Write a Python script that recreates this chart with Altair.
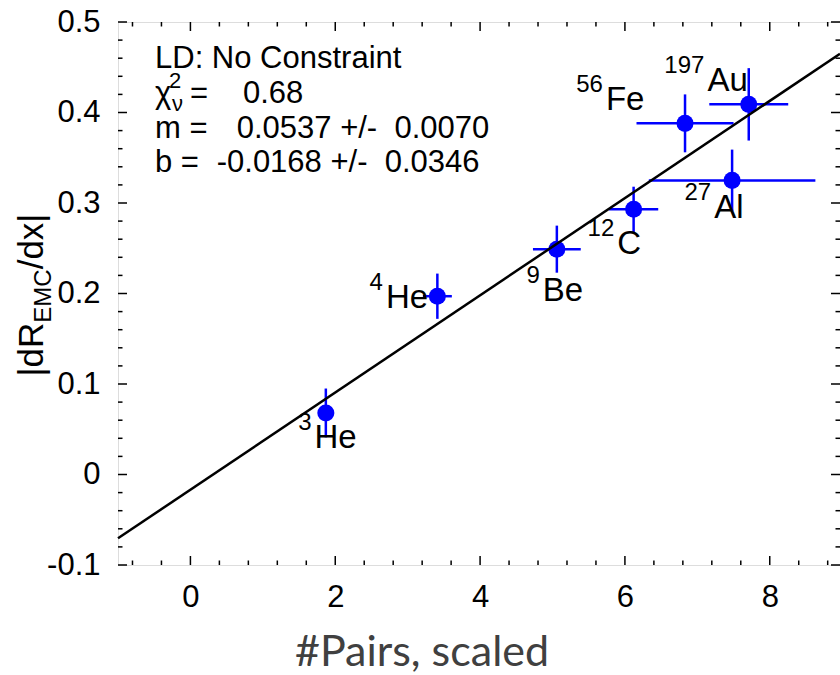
import altair as alt
import pandas as pd

# ---------------- data ----------------
mass_numbers = ["3", "4", "9", "12", "27", "56", "197"]
elements = ["He", "He", "Be", "C", "Al", "Fe", "Au"]
pairs_scaled = [1.87, 3.41, 5.06, 6.12, 7.48, 6.83, 7.71]
pairs_err = [0.08, 0.20, 0.33, 0.34, 1.15, 0.67, 0.545]
emc_slope = [0.068, 0.197, 0.249, 0.293, 0.325, 0.388, 0.409]
emc_err = [0.027, 0.025, 0.026, 0.025, 0.034, 0.032, 0.040]
# label anchors (data coordinates, like gnuplot "set label at")
label_x = [1.714, 2.70, 4.866, 5.894, 7.232, 5.738, 7.139]
label_y = [0.0293, 0.184, 0.1916, 0.2432, 0.2836, 0.4033, 0.4235]

fit_m, fit_m_err = 0.0537, 0.0070
fit_b, fit_b_err = -0.0168, 0.0346
chi2_nu = 0.68

x_major = [0, 2, 4, 6, 8]
x_minor = [-0.8, -0.4, 0.4, 0.8, 1.2, 1.6, 2.4, 2.8, 3.2, 3.6, 4.4, 4.8, 5.2,
           5.6, 6.4, 6.8, 7.2, 7.6, 8.4, 8.8]
y_major = [-0.1, 0.0, 0.1, 0.2, 0.3, 0.4, 0.5]
y_minor = [-0.08, -0.06, -0.04, -0.02, 0.02, 0.04, 0.06, 0.08, 0.12, 0.14, 0.16,
           0.18, 0.22, 0.24, 0.26, 0.28, 0.32, 0.34, 0.36, 0.38, 0.42, 0.44,
           0.46, 0.48]

X_DOMAIN = [-1, 8.97]
Y_DOMAIN = [-0.1, 0.5]
W, H = 722, 543
FONT = "Liberation Sans"
BLUE = "#0000ff"

df = pd.DataFrame({
    "x": pairs_scaled, "xerr": pairs_err, "y": emc_slope, "yerr": emc_err,
    "A": mass_numbers, "el": elements, "lx": label_x, "ly": label_y,
})
df["x_lo"] = df.x - df.xerr
df["x_hi"] = df.x + df.xerr
df["y_lo"] = df.y - df.yerr
df["y_hi"] = df.y + df.yerr

line_df = pd.DataFrame({"x": [X_DOMAIN[0], X_DOMAIN[1]]})
line_df["y"] = fit_m * line_df.x + fit_b

xs = alt.Scale(domain=X_DOMAIN, nice=False, zero=False)
ys = alt.Scale(domain=Y_DOMAIN, nice=False, zero=False)
x_ax = alt.Axis(values=x_major, ticks=False, tickSize=0, domain=False, grid=False,
                title=None, labelFontSize=31, labelFont=FONT, labelColor="#000",
                labelPadding=17)
y_ax = alt.Axis(values=y_major, ticks=False, tickSize=0, domain=False, grid=False,
                title=None, labelFontSize=31, labelFont=FONT, labelColor="#000",
                labelPadding=18,
                labelExpr="datum.value == 0 ? '0' : (datum.value < 0 ? '-' + format(-datum.value, '.1f') : format(datum.value, '.1f'))")


def X(f):
    return alt.X(f, type="quantitative", scale=xs, axis=x_ax)


def Y(f):
    return alt.Y(f, type="quantitative", scale=ys, axis=y_ax)


layers = []

# inward ticks on all four sides
def xticks(vals, length):
    d = pd.DataFrame({"v": vals})
    bot = alt.Chart(d).mark_rule(color="#000", strokeWidth=1.5).encode(
        x=X("v"), y=alt.value(H), y2=alt.value(H - length))
    top = alt.Chart(d).mark_rule(color="#000", strokeWidth=1.5).encode(
        x=X("v"), y=alt.value(0), y2=alt.value(length))
    return [bot, top]


def yticks(vals, length):
    d = pd.DataFrame({"v": vals})
    left = alt.Chart(d).mark_rule(color="#000", strokeWidth=1.5).encode(
        y=Y("v"), x=alt.value(0), x2=alt.value(length))
    right = alt.Chart(d).mark_rule(color="#000", strokeWidth=1.5).encode(
        y=Y("v"), x=alt.value(W - length), x2=alt.value(W))
    return [left, right]


layers += xticks(x_major, 9) + xticks(x_minor, 4.5)
layers += yticks(y_major, 9) + yticks(y_minor, 4.5)

base = alt.Chart(df)
xbars = base.mark_rule(color=BLUE, strokeWidth=2.5).encode(
    x=X("x_lo"), x2="x_hi:Q", y=Y("y"))
ybars = base.mark_rule(color=BLUE, strokeWidth=2.5).encode(
    x=X("x"), y=Y("y_lo"), y2="y_hi:Q")

el_text = base.mark_text(font=FONT, fontSize=33, align="left",
                         baseline="alphabetic", color="#000").encode(
    x=X("lx"), y=Y("ly"), text="el:N")
a_text = base.mark_text(font=FONT, fontSize=24, align="right",
                        baseline="alphabetic", color="#000", dx=-3, dy=-18).encode(
    x=X("lx"), y=Y("ly"), text="A:N")

points = base.mark_circle(color=BLUE, size=290, opacity=1).encode(
    x=X("x"), y=Y("y"))

fit_line = alt.Chart(line_df).mark_line(color="#000", strokeWidth=2.5).encode(
    x=X("x"), y=Y("y"))

layers += [xbars, ybars, el_text, a_text, points, fit_line]

# ---------------- annotation text (pixel positions) ----------------
one = pd.DataFrame({"k": [0]})
NB = "\u00a0"


def note(text, x, y, size=31, align="left", angle=0, font=FONT, color="#000"):
    return alt.Chart(one).mark_text(
        text=text, font=font, fontSize=size, align=align, angle=angle,
        baseline="alphabetic", color=color).encode(
        x=alt.value(x), y=alt.value(y))


L1, L2, L3, L4 = 46, 81, 116, 150
layers += [
    note("LD: No Constraint", 37, L1),
    note("\u03c7", 37, L2),
    note("2", 51, L2 - 15, size=22),
    note("\u03bd", 54, L2 + 8, size=22),
    note("=", 72, L2),
    note(f"{chi2_nu:.2f}", 125, L2),
    note("m =", 37, L3),
    note(f"{fit_m:.4f} +/-{NB}{NB}{fit_m_err:.4f}", 118.7, L3),
    note("b =", 37, L4),
    note(f"{fit_b:.4f} +/-{NB}{NB}{fit_b_err:.4f}", 98.7, L4),
]

# y axis title |dR_EMC/dx| built from rotated pieces
ARIAL = {"|": 0.26, "d": 0.556, "R": 0.722, "E": 0.667, "M": 0.833, "C": 0.722,
         "/": 0.278, "x": 0.5}


def tw(s, size):
    return sum(ARIAL[c] for c in s) * size


FT, FS = 35, 24
pieces = [("|dR", FT, 0), ("EMC", FS, 8), ("/dx|", FT, 0)]
total = sum(tw(s, f) for s, f, _ in pieces)
cy = 273
ypos = cy + total / 2
for s, f, shift in pieces:
    layers.append(note(s, -75 + shift, ypos, size=f, angle=270))
    ypos -= tw(s, f)

# x axis title
layers.append(note("#Pairs, scaled", 304, 644, size=43, align="center",
                   font="Lato", color="#404040"))

chart = alt.layer(*layers).properties(
    width=W, height=H,
    autosize=alt.AutoSizeParams(type="none"),
    padding={"left": 118, "top": 22, "right": 0, "bottom": 110},
).configure_view(stroke="#000", strokeWidth=2).configure(background="white")

chart.save("out.html", embed_options={"renderer": "svg", "actions": False})
